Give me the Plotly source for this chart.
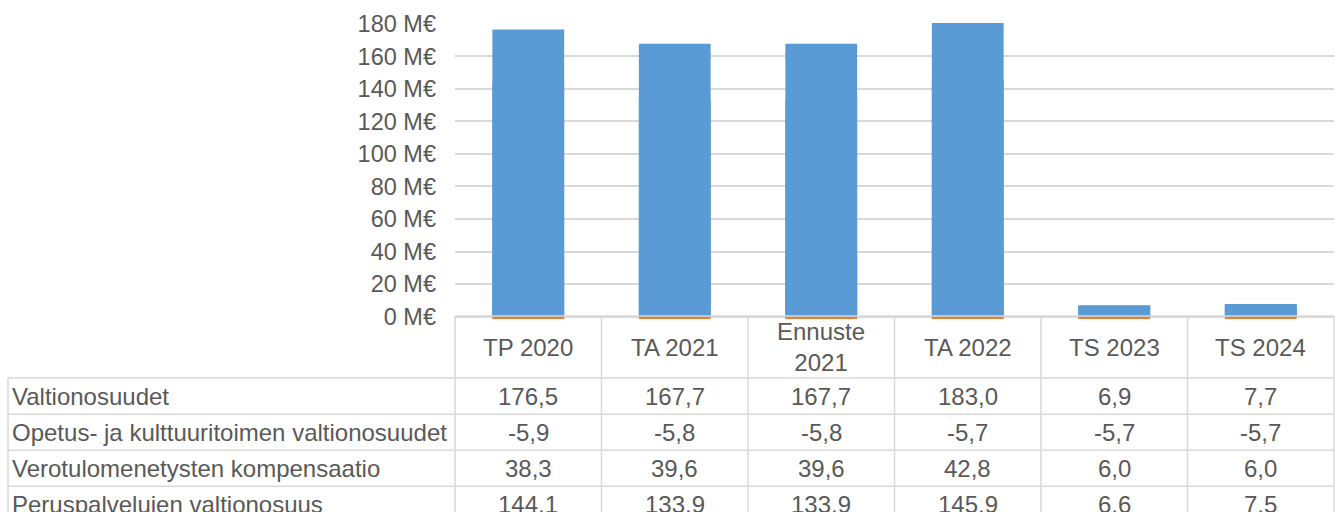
import plotly.graph_objects as go

# ---- data ----
categories = ["TP 2020", "TA 2021", "Ennuste 2021", "TA 2022", "TS 2023", "TS 2024"]
header_labels = ["TP 2020", "TA 2021", "Ennuste<br>2021", "TA 2022", "TS 2023", "TS 2024"]
series_names = [
    "Valtionosuudet",
    "Opetus- ja kulttuuritoimen valtionosuudet",
    "Verotulomenetysten kompensaatio",
    "Peruspalvelujen valtionosuus",
]
valtionosuudet = [176.5, 167.7, 167.7, 183.0, 6.9, 7.7]
opetus = [-5.9, -5.8, -5.8, -5.7, -5.7, -5.7]
verotulo = [38.3, 39.6, 39.6, 42.8, 6.0, 6.0]
peruspalvelu = [144.1, 133.9, 133.9, 145.9, 6.6, 7.5]
y_tickvals = [0, 20, 40, 60, 80, 100, 120, 140, 160, 180]
y_ticktext = [f"{v} M€" for v in y_tickvals]

series_values = [valtionosuudet, opetus, verotulo, peruspalvelu]
series_colors = ["#5B9BD5", "#ED7D31", "#5B9BD5", "#5B9BD5"]

# ---- layout geometry (pixels) ----
W, H = 1335, 512
PLOT_L, PLOT_R = 455, 1334
Y_MIN, Y_MAX = -1.5, 180.5
PX_PER_UNIT = 1.625
ZERO_Y = 316.5
PLOT_T = ZERO_Y - Y_MAX * PX_PER_UNIT
PLOT_B = ZERO_Y - Y_MIN * PX_PER_UNIT
PLOT_H = PLOT_B - PLOT_T
PLOT_W = PLOT_R - PLOT_L

def py(Y):
    return (PLOT_B - Y) / PLOT_H

def px(X):
    return (X - PLOT_L) / PLOT_W

TEXT = "#595959"
GRID = "#D9D9D9"
FONT = "Liberation Sans, Arial, sans-serif"
FS_AXIS = 23.5
FS = 24

fig = go.Figure()
draw_order = [2, 3, 0, 1]
for i in draw_order:
    fig.add_trace(go.Bar(
        x=categories, y=series_values[i], name=series_names[i],
        marker=dict(color=series_colors[i], line=dict(width=0)),
        width=0.49, showlegend=False,
    ))

# ---- table ----
header_bottom = 378
row_h = 36
left_x = 8
shapes = []
line = dict(color=GRID, width=1.5)
# top border of table (at zero line)
shapes.append(dict(type="line", xref="paper", yref="paper", x0=0, x1=1,
                   y0=py(ZERO_Y - 0.5), y1=py(ZERO_Y - 0.5), line=line))
# horizontal row lines
for r in range(len(series_names) + 1):
    Y = header_bottom + r * row_h
    shapes.append(dict(type="line", xref="paper", yref="paper", x0=px(left_x), x1=1,
                       y0=py(Y), y1=py(Y), line=line))
# vertical column lines
n = len(categories)
for c in range(n + 1):
    shapes.append(dict(type="line", xref="x domain", yref="paper", x0=c / n, x1=c / n,
                       y0=py(ZERO_Y - 0.5), y1=py(H + 20), line=line))
shapes.append(dict(type="line", xref="paper", yref="paper", x0=px(left_x), x1=px(left_x),
                   y0=py(header_bottom), y1=py(H + 20), line=line))

annotations = []
for cat, lab in zip(categories, header_labels):
    annotations.append(dict(x=cat, xref="x", y=py((ZERO_Y + header_bottom) / 2), yref="paper",
                            text=lab, showarrow=False, xanchor="center", yanchor="middle",
                            font=dict(family=FONT, size=FS, color=TEXT)))
for r, (name, vals) in enumerate(zip(series_names, series_values)):
    yc = py(header_bottom + r * row_h + row_h / 2)
    annotations.append(dict(x=px(left_x + 2), xref="paper", y=yc, yref="paper", text=name,
                            showarrow=False, xanchor="left", yanchor="middle",
                            font=dict(family=FONT, size=FS, color=TEXT)))
    for cat, v in zip(categories, vals):
        annotations.append(dict(x=cat, xref="x", y=yc, yref="paper",
                                text=f"{v:.1f}".replace(".", ","), showarrow=False,
                                xanchor="center", yanchor="middle",
                                font=dict(family=FONT, size=FS, color=TEXT)))

fig.update_layout(
    width=W, height=H,
    margin=dict(l=PLOT_L, r=W - PLOT_R, t=PLOT_T, b=H - PLOT_B, pad=0),
    paper_bgcolor="white", plot_bgcolor="white",
    barmode="overlay",
    xaxis=dict(type="category", categoryarray=categories, range=[-0.5, n - 0.5],
               showticklabels=False, showgrid=False, zeroline=False, showline=False, ticks=""),
    yaxis=dict(range=[Y_MIN, Y_MAX], tickvals=y_tickvals, ticktext=y_ticktext,
               showgrid=True, gridcolor=GRID, gridwidth=1.5, zeroline=False, showline=False,
               ticks="", ticklabelstandoff=18,
               tickfont=dict(family=FONT, size=FS_AXIS, color=TEXT)),
    shapes=shapes, annotations=annotations,
)

fig.write_html(
    "out.html",
    config={"displayModeBar": False},
    post_script="document.body.style.margin='0';document.body.style.padding='0';",
)
